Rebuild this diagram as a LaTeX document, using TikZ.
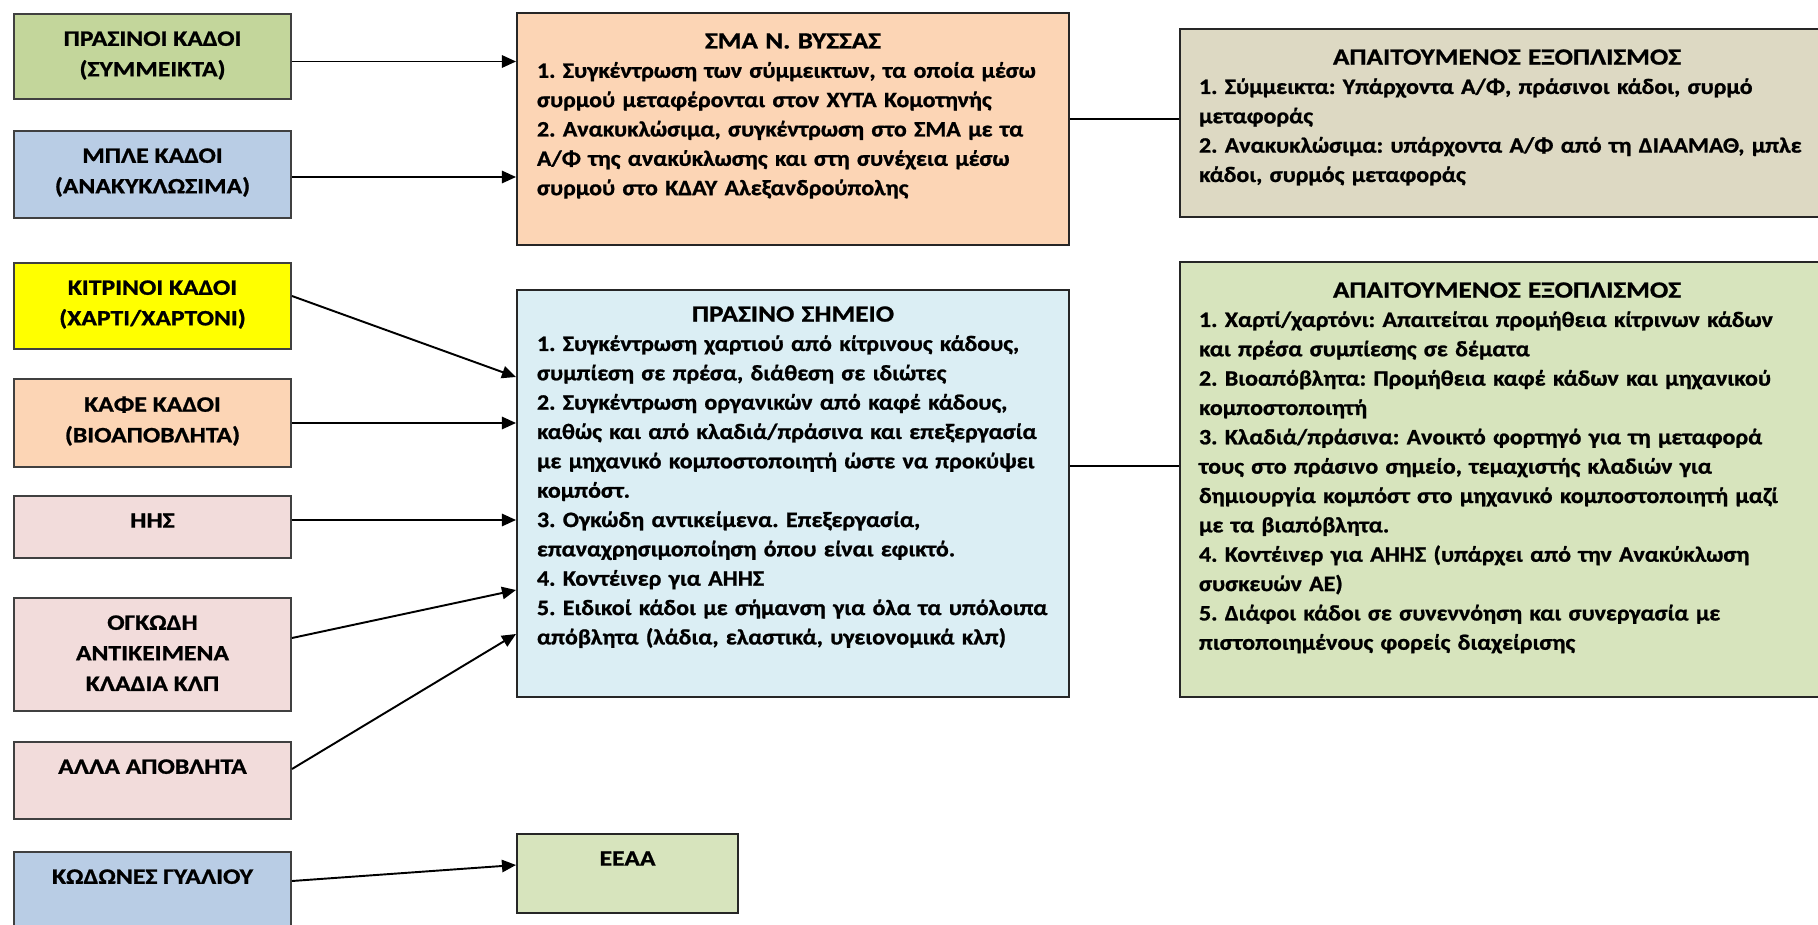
\documentclass[tikz,border=0pt]{standalone}
\usepackage{fontspec}
\setmainfont{Carlito}[FakeStretch=1.09,BoldFont={Carlito Bold},BoldFeatures={FakeBold=1}]
\newfontfamily\headfont{Carlito}[FakeStretch=1.17,BoldFont={Carlito Bold},BoldFeatures={FakeBold=1}]
\usepackage{xcolor}
\usetikzlibrary{positioning,arrows.meta}

\definecolor{bingreen}{HTML}{C3D69B}
\definecolor{binblue}{HTML}{B9CDE5}
\definecolor{binyellow}{HTML}{FFFF00}
\definecolor{binorange}{HTML}{FCD5B5}
\definecolor{binpink}{HTML}{F2DCDB}
\definecolor{panelcyan}{HTML}{DBEEF4}
\definecolor{paneltan}{HTML}{DDD9C3}
\definecolor{panelolive}{HTML}{D7E4BD}

\newcommand{\panelhead}[1]{{\centering\fontsize{13.2}{16.7}\headfont\bfseries #1\par}\noindent}
\frenchspacing

\begin{document}
\begin{tikzpicture}[>={Triangle[length=8pt,width=7pt]},
  font=\fontsize{12.5}{16.7}\selectfont\bfseries,
  bin/.style={draw=black!75,line width=1.1pt,minimum width=5.54cm,inner sep=0pt},
  bintext/.style={align=center,inner sep=0pt,font=\fontsize{12.5}{17.4}\headfont\bfseries},
  panel/.style={draw=black!85,line width=1.1pt,inner sep=0pt},
  paneltext/.style={align=left,inner sep=0pt},
  feed/.style={->,line width=1.1pt},
  link/.style={line width=1.1pt}]
\useasboundingbox (0,0) rectangle (36.36,-18.5);
% bins on the left
\node[bin,fill=bingreen,minimum height=1.70cm] (green) at (3.05,-1.13) {};
\node[bintext,below=0.36cm of green.north] (green-t) {ΠΡΑΣΙΝΟΙ ΚΑΔΟΙ\\(ΣΥΜΜΕΙΚΤΑ)};
\node[bin,fill=binblue,minimum height=1.74cm] (blue) at (3.05,-3.49) {};
\node[bintext,below=0.36cm of blue.north] (blue-t) {ΜΠΛΕ ΚΑΔΟΙ\\(ΑΝΑΚΥΚΛΩΣΙΜΑ)};
\node[bin,fill=binyellow,minimum height=1.72cm] (yellow) at (3.05,-6.12) {};
\node[bintext,below=0.36cm of yellow.north] (yellow-t) {ΚΙΤΡΙΝΟΙ ΚΑΔΟΙ\\(ΧΑΡΤΙ/ΧΑΡΤΟΝΙ)};
\node[bin,fill=binorange,minimum height=1.76cm] (brown) at (3.05,-8.46) {};
\node[bintext,below=0.36cm of brown.north] (brown-t) {ΚΑΦΕ ΚΑΔΟΙ\\(ΒΙΟΑΠΟΒΛΗΤΑ)};
\node[bin,fill=binpink,minimum height=1.24cm] (weee) at (3.05,-10.54) {};
\node[bintext,below=0.36cm of weee.north] (weee-t) {ΗΗΣ};
\node[bin,fill=binpink,minimum height=2.26cm] (bulky) at (3.05,-13.09) {};
\node[bintext,below=0.36cm of bulky.north] (bulky-t) {ΟΓΚΩΔΗ\\ΑΝΤΙΚΕΙΜΕΝΑ\\ΚΛΑΔΙΑ ΚΛΠ};
\node[bin,fill=binpink,minimum height=1.54cm] (other) at (3.05,-15.61) {};
\node[bintext,below=0.36cm of other.north] (other-t) {ΑΛΛΑ ΑΠΟΒΛΗΤΑ};
\node[bin,fill=binblue,minimum height=1.66cm] (glass) at (3.05,-17.87) {};
\node[bintext,below=0.36cm of glass.north] (glass-t) {ΚΩΔΩΝΕΣ ΓΥΑΛΙΟΥ};
% collection points
\node[panel,fill=binorange,minimum width=11.04cm,minimum height=4.64cm] (sma) at (15.86,-2.58) {};
\node[paneltext,text width=10.24cm,below=0.42cm of sma.north] (sma-t) {\panelhead{ΣΜΑ Ν. ΒΥΣΣΑΣ}%
1. Συγκέντρωση των σύμμεικτων, τα οποία μέσω\\
συρμού μεταφέρονται στον ΧΥΤΑ Κομοτηνής\\
2. Ανακυκλώσιμα, συγκέντρωση στο ΣΜΑ με τα\\
Α/Φ της ανακύκλωσης και στη συνέχεια μέσω\\
συρμού στο ΚΔΑΥ Αλεξανδρούπολης};
\node[panel,fill=panelcyan,minimum width=11.04cm,minimum height=8.14cm] (pr) at (15.86,-9.87) {};
\node[paneltext,text width=10.24cm,below=0.34cm of pr.north] (pr-t) {\panelhead{ΠΡΑΣΙΝΟ ΣΗΜΕΙΟ}%
1. Συγκέντρωση χαρτιού από κίτρινους κάδους,\\
συμπίεση σε πρέσα, διάθεση σε ιδιώτες\\
2. Συγκέντρωση οργανικών από καφέ κάδους,\\
καθώς και από κλαδιά/πράσινα και επεξεργασία\\
με μηχανικό κομποστοποιητή ώστε να προκύψει\\
κομπόστ.\\
3. Ογκώδη αντικείμενα. Επεξεργασία,\\
επαναχρησιμοποίηση όπου είναι εφικτό.\\
4. Κοντέινερ για ΑΗΗΣ\\
5. Ειδικοί κάδοι με σήμανση για όλα τα υπόλοιπα\\
απόβλητα (λάδια, ελαστικά, υγειονομικά κλπ)};
\node[panel,fill=panelolive,minimum width=4.42cm,minimum height=1.58cm] (eeaa) at (12.55,-17.47) {};
\node[bintext,below=0.36cm of eeaa.north] (eeaa-t) {ΕΕΑΑ};
% equipment
\node[panel,fill=paneltan,minimum width=13.08cm,minimum height=3.76cm] (eq1) at (30.14,-2.46) {};
\node[paneltext,text width=12.32cm,below=0.42cm of eq1.north] (eq1-t) {\panelhead{ΑΠΑΙΤΟΥΜΕΝΟΣ ΕΞΟΠΛΙΣΜΟΣ}%
1. Σύμμεικτα: Υπάρχοντα Α/Φ, πράσινοι κάδοι, συρμό\\
μεταφοράς\\
2. Ανακυκλώσιμα: υπάρχοντα Α/Φ από τη ΔΙΑΑΜΑΘ, μπλε\\
κάδοι, συρμός μεταφοράς};
\node[panel,fill=panelolive,minimum width=13.08cm,minimum height=8.70cm] (eq2) at (30.14,-9.59) {};
\node[paneltext,text width=12.32cm,below=0.42cm of eq2.north] (eq2-t) {\panelhead{ΑΠΑΙΤΟΥΜΕΝΟΣ ΕΞΟΠΛΙΣΜΟΣ}%
1. Χαρτί/χαρτόνι: Απαιτείται προμήθεια κίτρινων κάδων\\
και πρέσα συμπίεσης σε δέματα\\
2. Βιοαπόβλητα: Προμήθεια καφέ κάδων και μηχανικού\\
κομποστοποιητή\\
3. Κλαδιά/πράσινα: Ανοικτό φορτηγό για τη μεταφορά\\
τους στο πράσινο σημείο, τεμαχιστής κλαδιών για\\
δημιουργία κομπόστ στο μηχανικό κομποστοποιητή μαζί\\
με τα βιαπόβλητα.\\
4. Κοντέινερ για ΑΗΗΣ (υπάρχει από την Ανακύκλωση\\
συσκευών ΑΕ)\\
5. Διάφοι κάδοι σε συνεννόηση και συνεργασία με\\
πιστοποιημένους φορείς διαχείρισης};
% flows
\draw[feed] ([yshift=-1mm]green.east) coordinate (g1) -- (g1 -| sma.west);
\draw[feed] ([yshift=-0.5mm]blue.east) coordinate (b1) -- (b1 -| sma.west);
\draw[feed] ([yshift=2mm]yellow.east) -- ([yshift=2.33cm]pr.west);
\draw[feed] (brown.east) -- (brown.east -| pr.west);
\draw[feed] ([yshift=1.4mm]weee.east) coordinate (w1) -- (w1 -| pr.west);
\draw[feed] ([yshift=3.3mm]bulky.east) -- ([yshift=-1.93cm]pr.west);
\draw[feed] ([yshift=2.3mm]other.east) -- ([yshift=-2.81cm]pr.west);
\draw[feed] ([yshift=2.5mm]glass.east) -- ([yshift=1.7mm]eeaa.west);
\draw[link] ([yshift=2mm]sma.east) coordinate (s1) -- (s1 -| eq1.west);
\draw[link] ([yshift=5.5mm]pr.east) coordinate (p1) -- (p1 -| eq2.west);
\end{tikzpicture}
\end{document}
